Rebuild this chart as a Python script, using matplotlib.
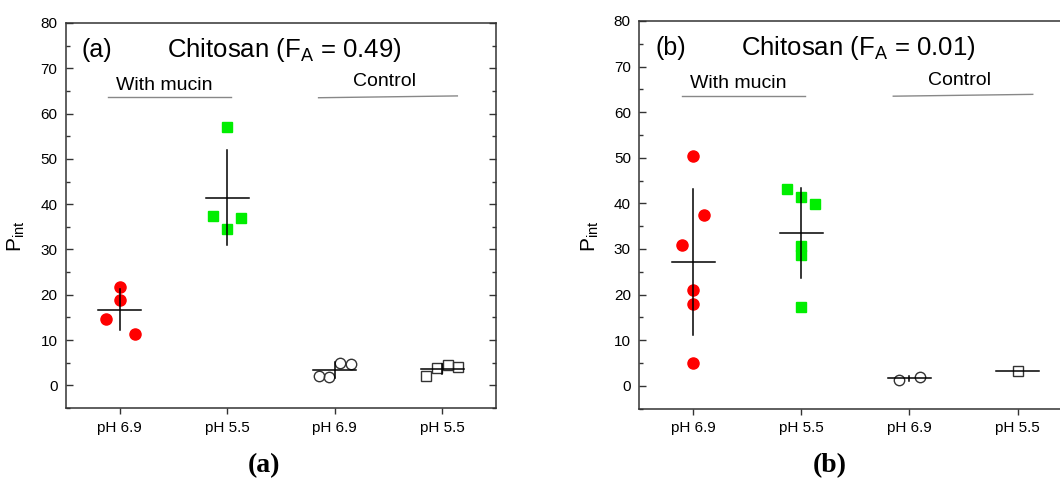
import numpy as np
import matplotlib
matplotlib.use('Agg')
import matplotlib.pyplot as plt
from matplotlib.ticker import MultipleLocator

plt.rcParams['font.family'] = ['Liberation Sans', 'DejaVu Sans']
plt.rcParams['mathtext.fontset'] = 'custom'
plt.rcParams['mathtext.rm'] = 'Liberation Sans'
plt.rcParams['mathtext.it'] = 'Liberation Sans:italic'

# categories on the x axis (with mucin x2, control x2)
cats = ['pH 6.9', 'pH 5.5', 'pH 6.9', 'pH 5.5']

# panel (a): chitosan FA = 0.49
a_muc69 = [21.7, 18.8, 14.7, 11.4]
a_muc55 = [57.0, 37.3, 36.95, 34.6]
a_ctl69 = [2.1, 1.8, 5.0, 4.8]
a_ctl55 = [2.15, 3.75, 4.45, 4.15]

# panel (b): chitosan FA = 0.01
b_muc69 = [50.4, 37.4, 30.9, 20.9, 17.9, 4.9]
b_muc55 = [43.1, 41.5, 39.9, 30.6, 28.6, 17.3]
b_ctl69 = [1.2, 2.0]
b_ctl55 = [3.3]

# horizontal jitter of the points
a_jit = [[0, 0, -0.13, 0.14], [0, -0.13, 0.13, 0],
         [-0.15, -0.05, 0.05, 0.15], [-0.15, -0.05, 0.05, 0.15]]
b_jit = [[0, 0.10, -0.10, 0, 0, 0], [-0.13, 0, 0.13, 0, 0, 0],
         [-0.1, 0.1], [0]]

styles = [dict(marker='o', color='#ff0000', ms=8, mec='#ff0000'),
          dict(marker='s', color='#00ee00', ms=6.5, mec='#00ee00'),
          dict(marker='o', color='none', ms=7.5, mec='#333333', mew=1.0),
          dict(marker='s', color='none', ms=6.5, mec='#333333', mew=1.0)]


def panel(ax, groups, jit, letter, fa):
    for i, (vals, dx, st) in enumerate(zip(groups, jit, styles)):
        x = i + 1
        ax.plot(np.array(dx) + x, vals, ls='none', zorder=2, **st)
        m = np.mean(vals)
        ax.plot([x - 0.2, x + 0.2], [m, m], color='k', lw=1.1, zorder=3)
        if len(vals) > 1:
            sd = np.std(vals, ddof=1)
            ax.plot([x, x], [m - sd, m + sd], color='k', lw=1.1, zorder=3)
    ax.set_xlim(0.5, 4.5)
    ax.set_ylim(-5, 80)
    ax.set_xticks([1, 2, 3, 4])
    ax.set_xticklabels(cats)
    ax.set_yticks(range(0, 81, 10))
    ax.yaxis.set_minor_locator(MultipleLocator(5))
    ax.tick_params(axis='y', which='major', direction='in', length=5, width=1,
                   left=True, right=True, labelsize=11, pad=6, color='#333333')
    ax.tick_params(axis='y', which='minor', direction='in', length=3, width=1,
                   left=True, right=True, color='#333333')
    ax.tick_params(axis='x', direction='out', length=4, width=1, labelsize=11,
                   pad=5, color='#333333')
    for s in ax.spines.values():
        s.set_linewidth(1.1)
        s.set_color('#333333')
    ax.text(0.65, 74, '(' + letter + ')', fontsize=18, va='center', ha='left')
    ax.text(2.53, 74, r'Chitosan (F$_\mathrm{A}$ = ' + fa + ')', fontsize=18.5,
            va='center', ha='center')
    ax.text(1.42, 66.3, 'With mucin', fontsize=14, va='center', ha='center')
    ax.text(3.465, 67.0, 'Control', fontsize=14, va='center', ha='center')
    ax.plot([0.895, 2.037], [63.6, 63.6], color='#888888', lw=1)
    ax.plot([2.85, 4.14], [63.5, 63.9], color='#888888', lw=1)


fig = plt.figure(figsize=(10.6, 4.78), dpi=100)
ax1 = fig.add_axes([0.062, 0.1464, 0.406, 0.8055])
ax2 = fig.add_axes([0.603, 0.1452, 0.408, 0.811])

panel(ax1, [a_muc69, a_muc55, a_ctl69, a_ctl55], a_jit, 'a', '0.49')
panel(ax2, [b_muc69, b_muc55, b_ctl69, b_ctl55], b_jit, 'b', '0.01')

fig.text(16 / 1060, 0.505, r'P$_\mathrm{int}$', rotation=90, fontsize=15,
         ha='center', va='center')
fig.text(590 / 1060, 0.505, r'P$_\mathrm{int}$', rotation=90, fontsize=15,
         ha='center', va='center')

fig.text(264 / 1060, 1 - 466 / 478, '(a)', fontsize=20, fontweight='bold',
         family='Liberation Serif', ha='center', va='center')
fig.text(830 / 1060, 1 - 466 / 478, '(b)', fontsize=20, fontweight='bold',
         family='Liberation Serif', ha='center', va='center')

fig.savefig('out.png', dpi=100)
